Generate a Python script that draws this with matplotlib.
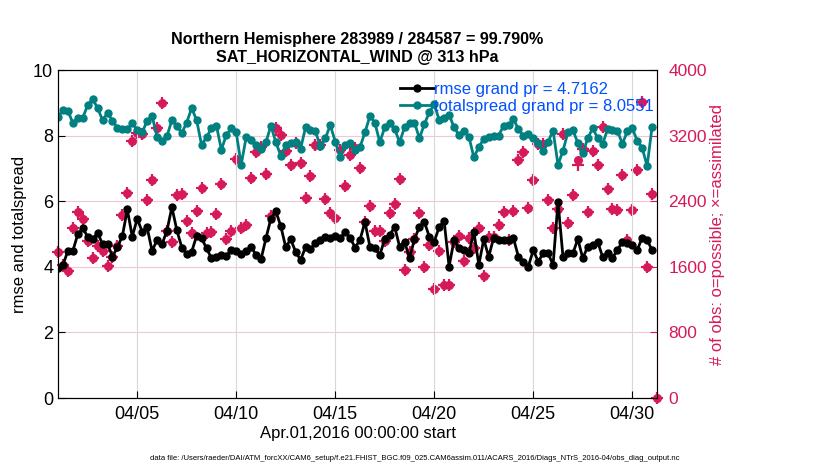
import numpy as np
import pandas as pd
import matplotlib
matplotlib.use("Agg")
import matplotlib.pyplot as plt
import matplotlib.dates as mdates

plt.rcParams['font.family'] = ['Liberation Sans', 'DejaVu Sans']

# 6-hourly bins, Apr 1 00Z .. May 1 06Z
times = pd.date_range('2016-04-01 00:00', periods=122, freq='6h')

rmse = [3.98, 4.06, 4.49, 4.49, 5.00, 5.17, 4.92, 4.84, 5.04, 4.69,
        4.71, 4.31, 4.60, 4.94, 5.75, 4.92, 5.47, 5.07, 5.20, 4.49,
        4.81, 4.69, 5.10, 5.82, 5.12, 4.59, 4.39, 4.46, 4.95, 4.87,
        4.57, 4.26, 4.31, 4.36, 4.34, 4.51, 4.48, 4.38, 4.48, 4.62,
        4.36, 4.23, 4.87, 5.47, 5.70, 5.24, 4.60, 4.84, 4.46, 4.21,
        4.60, 4.54, 4.72, 4.82, 4.90, 4.87, 4.94, 4.87, 5.07, 4.89,
        4.59, 4.82, 5.37, 4.62, 4.57, 4.36, 4.85, 4.97, 5.22, 4.62,
        4.77, 4.26, 4.84, 5.22, 5.37, 4.92, 4.77, 5.22, 5.39, 4.01,
        4.82, 4.57, 4.52, 4.41, 5.07, 4.06, 4.84, 4.31, 4.89, 4.82,
        4.82, 4.82, 4.87, 4.31, 4.16, 4.01, 4.51, 4.16, 4.41, 4.41,
        4.06, 5.98, 4.31, 4.41, 4.41, 4.85, 4.26, 4.62, 4.67, 4.77,
        4.31, 4.41, 4.28, 4.51, 4.77, 4.72, 4.67, 4.51, 4.89, 4.82,
        4.51, np.nan]

spread = [8.58, 8.78, 8.76, 8.38, 8.54, 8.54, 8.94, 9.11, 8.84, 8.47,
          8.69, 8.46, 8.24, 8.20, 8.20, 8.38, 8.18, 8.10, 8.45, 8.60,
          7.97, 7.84, 7.98, 8.47, 8.29, 8.08, 8.40, 8.84, 8.47, 7.72,
          7.95, 8.23, 8.30, 7.57, 8.02, 8.22, 8.10, 7.11, 7.95, 7.87,
          7.72, 7.60, 7.80, 8.30, 7.80, 7.39, 7.70, 7.78, 7.80, 7.60,
          8.25, 8.17, 8.13, 7.67, 7.92, 8.32, 7.82, 7.36, 7.72, 7.78,
          7.55, 7.65, 8.10, 8.59, 8.40, 7.80, 8.25, 8.38, 8.20, 7.80,
          8.25, 8.40, 8.40, 7.92, 8.35, 8.71, 8.96, 8.47, 8.54, 8.64,
          8.25, 8.02, 8.15, 7.97, 7.34, 7.65, 7.90, 7.95, 7.98, 8.00,
          8.30, 8.32, 8.50, 8.20, 8.00, 8.05, 7.92, 7.78, 7.52, 7.82,
          8.15, 7.11, 7.54, 8.10, 8.17, 7.78, 7.46, 7.92, 8.22, 7.93,
          7.73, 8.20, 8.17, 8.15, 7.75, 8.13, 8.22, 7.85, 7.63, 7.07,
          8.27, np.nan]

nused = [1786, 1624, 1552, 2069, 2263, 2178, 1919, 1713, 1855, 1798,
         1612, 1725, 1855, 2230, 2501, 3139, 3228, 3220, 2420, 2655,
         3289, 3604, 2032, 1907, 2481, 2493, 2158, 2016, 2279, 2562,
         2016, 2028, 2242, 2606, 1939, 2036, 2917, 2069, 2109, 2687,
         2998, 3067, 2727, 2218, 3289, 3212, 3010, 2844, 3111, 2869,
         2444, 2703, 3091, 3091, 2424, 2251, 2190, 3026, 2582, 2958,
         3046, 2804, 2150, 2344, 2040, 2040, 1915, 2259, 2372, 2667,
         1556, 1786, 1935, 2251, 1604, 1867, 1334, 1798, 1374, 1374,
         1907, 1976, 1677, 1956, 1834, 2069, 1483, 1960, 1968, 2109,
         2271, 1927, 2279, 2897, 2998, 2319, 2663, 3099, 3099, 2420,
         2077, 2311, 3220, 2137, 2473, 2840, 3038, 2271, 3018, 2844,
         3309, 2545, 2311, 2291, 2723, 1927, 2291, 2776, 3616, 1604,
         2493, 0]
nposs = list(nused)
nposs[105] = 2905

title1 = 'Northern Hemisphere 283989 / 284587 = 99.790%'
title2 = 'SAT_HORIZONTAL_WIND @ 313 hPa'
footnote = ('data file: /Users/raeder/DAI/ATM_forcXX/CAM6_setup/f.e21.FHIST_BGC.f09_025.'
            'CAM6assim.011/ACARS_2016/Diags_NTrS_2016-04/obs_diag_output.nc')

teal = '#008080'
crim = '#d6195b'

fig = plt.figure(figsize=(8.3, 4.7), dpi=100)
ax = fig.add_axes([0.0699, 0.153, 0.7217, 0.698])
ax2 = ax.twinx()

# obs counts on the right axis, drawn under the lines
ax2.plot(times, nposs, 'o', color=crim, ms=6.5, mew=0, clip_on=False, zorder=2)
ax2.plot(times, nused, '+', color=crim, ms=9, mew=1.6, clip_on=False, zorder=2)
ax2.set_ylim(0, 4000)
ax2.set_yticks(np.arange(0, 4001, 800))
ax2.tick_params(axis='y', colors=crim, direction='in', labelsize=12.5, length=5, pad=8)
ax2.set_ylabel('# of obs: o=possible; \u00d7=assimilated', color=crim, fontsize=12,
               labelpad=2)
ax2.spines['right'].set_color(crim)
ax2.grid(axis='y', color='#f2c6d6', lw=0.8)

ax.set_zorder(ax2.get_zorder() + 1)
ax.patch.set_visible(False)
l1, = ax.plot(times, rmse, '-o', color='black', lw=2, ms=5)
l2, = ax.plot(times, spread, '-o', color=teal, lw=2, ms=5)
ax.set_ylim(0, 10)
ax.set_yticks(np.arange(0, 11, 2))
ax.set_xlim(times[0], times[-1])
ax.set_xticks(pd.date_range('2016-04-05', '2016-04-30', freq='5D'))
ax.xaxis.set_major_formatter(mdates.DateFormatter('%m/%d'))
ax.tick_params(direction='in', labelsize=13, length=5)
ax.tick_params(axis='x', pad=6)
ax.grid(axis='x', color='#d8d8d8', lw=0.8)
ax.set_ylabel('rmse and totalspread', fontsize=12)
ax.set_xlabel('Apr.01,2016 00:00:00 start', fontsize=12, labelpad=2)
ax.set_title(title1 + '\n' + title2, fontsize=11.6, fontweight='bold', pad=6)

leg = ax.legend([l1, l2], ['rmse grand pr = 4.7162', 'totalspread grand pr = 8.0551'],
                loc='upper left', bbox_to_anchor=(0.552, 1.0), frameon=False,
                fontsize=12, handlelength=2.0, handletextpad=0.0, labelspacing=0.15,
                borderaxespad=0.3)
for t in leg.get_texts():
    t.set_color('#0050ff')

fig.text(0.5, 0.022, footnote, ha='center', fontsize=5.5)

fig.savefig('out.png', dpi=100)
